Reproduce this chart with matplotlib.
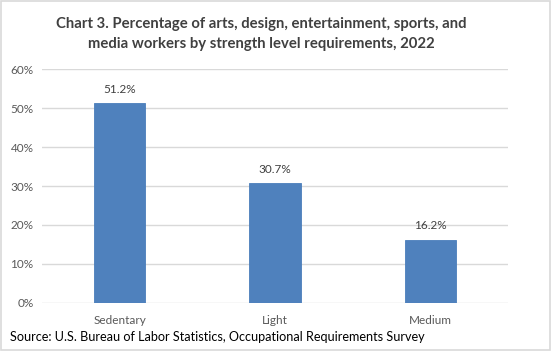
import matplotlib
matplotlib.use('Agg')
import matplotlib.pyplot as plt
import matplotlib.patches as mpatches
import numpy as np

# data
categories = ["Sedentary", "Light", "Medium"]
values = [51.2, 30.7, 16.2]
yticks = [0, 10, 20, 30, 40, 50, 60]

plt.rcParams['font.family'] = ['Lato', 'DejaVu Sans']

fig = plt.figure(figsize=(5.51, 3.51), dpi=100)
ax = fig.add_axes([0.076, 0.137, 0.846, 0.666])

x = np.arange(len(categories))
ax.bar(x, values, width=0.33, color='#4F81BD', edgecolor='#4A7EBB', linewidth=0.6, zorder=3)
for xi, v in zip(x, values):
    ax.text(xi, v + 2.2, f"{v:.1f}%", ha='center', va='bottom', fontsize=8.5, color='#404040')

ax.set_xlim(-0.5, len(categories) - 0.5)
ax.set_ylim(0, 60)
ax.set_yticks(yticks)
ax.set_yticklabels([f"{t}%" for t in yticks], fontsize=8.5, color='#595959')
ax.set_xticks(x)
ax.set_xticklabels(categories, fontsize=8.5, color='#595959')
ax.tick_params(length=0, pad=6)
ax.tick_params(axis='x', pad=9)
ax.grid(axis='y', color='#D9D9D9', linewidth=1, zorder=0)
for s in ax.spines.values():
    s.set_visible(False)

fig.text(0.474, 0.903, "Chart 3. Percentage of arts, design, entertainment, sports, and\nmedia workers by strength level requirements, 2022",
         ha='center', va='center', fontsize=10.75, fontweight='bold', color='#404040', linespacing=1.55)
fig.text(0.018, 0.04, "Source: U.S. Bureau of Labor Statistics, Occupational Requirements Survey",
         ha='left', va='center', fontsize=9.1, color='black')

fig.patches.append(mpatches.Rectangle((0.001, 0.002), 0.997, 0.995, transform=fig.transFigure,
                                      fill=False, edgecolor='#D9D9D9', linewidth=1.2))

plt.savefig('out.png', dpi=100)
